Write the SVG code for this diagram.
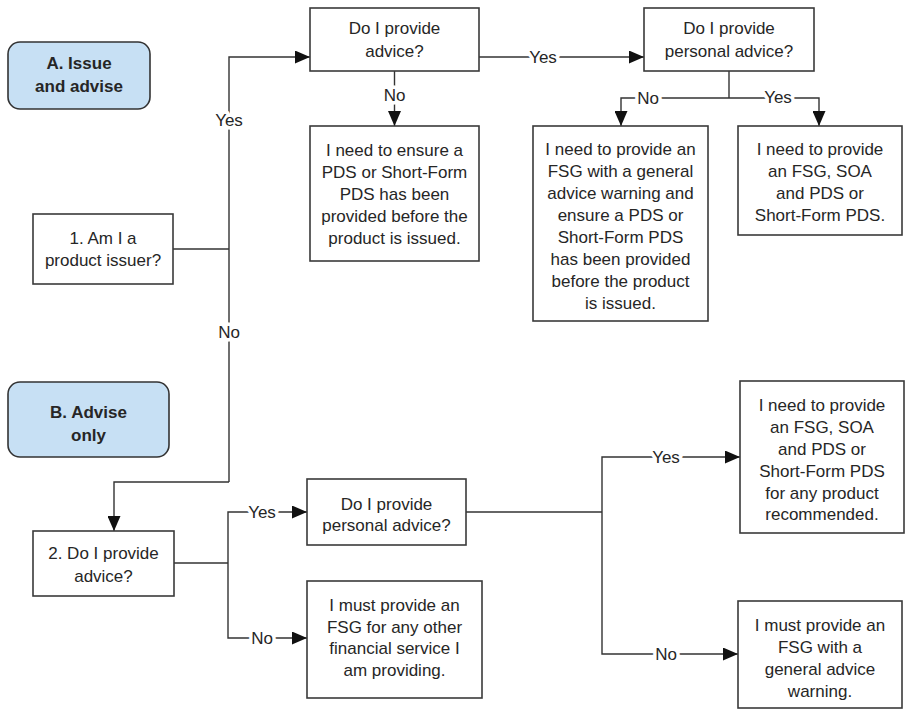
<svg xmlns="http://www.w3.org/2000/svg" width="910" height="709" viewBox="0 0 910 709">
<style>
.box{fill:#fff;stroke:#3a3a3a;stroke-width:1.6}
.hdr{fill:#c7e0f4;stroke:#333;stroke-width:1.6}
text{font-family:"Liberation Sans",Arial,sans-serif;font-size:17px;fill:#262626;text-anchor:middle}
.b{font-weight:bold}
.ln{fill:none;stroke:#333;stroke-width:1.4}
.lbl{stroke:#fff;stroke-width:7;paint-order:stroke;stroke-linejoin:round}
</style>
<defs>
<marker id="ah" markerUnits="userSpaceOnUse" markerWidth="15" markerHeight="13" viewBox="0 0 15 13" refX="15" refY="6.5" orient="auto">
<path d="M0,0 L15,6.5 L0,13 z" fill="#111"/>
</marker>
</defs>
<rect width="910" height="709" fill="#fff"/>

<g id="connectors">
<path class="ln" d="M173,249 H229"/>
<path class="ln" d="M229,482 V57 H310" marker-end="url(#ah)"/>
<path class="ln" d="M229,482 H114 V531" marker-end="url(#ah)"/>
<path class="ln" d="M394.5,71 V126" marker-end="url(#ah)"/>
<path class="ln" d="M479,57 H644" marker-end="url(#ah)"/>
<path class="ln" d="M729,71 V98"/>
<path class="ln" d="M729,98 H621 V126" marker-end="url(#ah)"/>
<path class="ln" d="M729,98 H819 V126" marker-end="url(#ah)"/>
<path class="ln" d="M174,563 H228"/>
<path class="ln" d="M228,563 V512 H307" marker-end="url(#ah)"/>
<path class="ln" d="M228,563 V638 H307" marker-end="url(#ah)"/>
<path class="ln" d="M466,512 H602"/>
<path class="ln" d="M602,512 V457 H740" marker-end="url(#ah)"/>
<path class="ln" d="M602,512 V654 H738" marker-end="url(#ah)"/>
<text class="lbl" x="229" y="126">Yes</text>
<text class="lbl" x="229" y="338">No</text>
<text class="lbl" x="394.5" y="101">No</text>
<text class="lbl" x="543" y="63">Yes</text>
<text class="lbl" x="648" y="104">No</text>
<text class="lbl" x="778" y="103">Yes</text>
<text class="lbl" x="262" y="518">Yes</text>
<text class="lbl" x="262" y="644">No</text>
<text class="lbl" x="666" y="463">Yes</text>
<text class="lbl" x="666" y="660">No</text>
</g>

<g id="hdrA">
<rect class="hdr" x="8" y="42" width="142" height="67" rx="12"/>
<text class="b" x="79" y="69">A. Issue</text>
<text class="b" x="79" y="92">and advise</text>
</g>
<g id="hdrB">
<rect class="hdr" x="8" y="382" width="161" height="75" rx="12"/>
<text class="b" x="88.5" y="418">B. Advise</text>
<text class="b" x="88.5" y="441">only</text>
</g>

<g id="q1">
<rect class="box" x="33" y="214" width="140" height="70"/>
<text x="103" y="244">1. Am I a</text>
<text x="103" y="266">product issuer?</text>
</g>
<g id="qAdviceA">
<rect class="box" x="310" y="8" width="169" height="63"/>
<text x="394.5" y="34">Do I provide</text>
<text x="394.5" y="57">advice?</text>
</g>
<g id="rEnsurePDS">
<rect class="box" x="310" y="126" width="169" height="135"/>
<text x="394.5" y="156">I need to ensure a</text>
<text x="394.5" y="178">PDS or Short-Form</text>
<text x="394.5" y="200">PDS has been</text>
<text x="394.5" y="222">provided before the</text>
<text x="394.5" y="244">product is issued.</text>
</g>
<g id="qPersonalA">
<rect class="box" x="644" y="8" width="170" height="63"/>
<text x="729" y="34">Do I provide</text>
<text x="729" y="57">personal advice?</text>
</g>
<g id="rGeneralA">
<rect class="box" x="533" y="126" width="175" height="195"/>
<text x="620.5" y="155">I need to provide an</text>
<text x="620.5" y="177">FSG with a general</text>
<text x="620.5" y="199">advice warning and</text>
<text x="620.5" y="221">ensure a PDS or</text>
<text x="620.5" y="243">Short-Form PDS</text>
<text x="620.5" y="265">has been provided</text>
<text x="620.5" y="287">before the product</text>
<text x="620.5" y="309">is issued.</text>
</g>
<g id="rSOAA">
<rect class="box" x="738" y="126" width="164" height="109"/>
<text x="820" y="155">I need to provide</text>
<text x="820" y="177">an FSG, SOA</text>
<text x="820" y="199">and PDS or</text>
<text x="820" y="221">Short-Form PDS.</text>
</g>

<g id="q2">
<rect class="box" x="33" y="531" width="141" height="65"/>
<text x="103.5" y="559">2. Do I provide</text>
<text x="103.5" y="582">advice?</text>
</g>
<g id="qPersonalB">
<rect class="box" x="307" y="479" width="159" height="66"/>
<text x="386.5" y="510">Do I provide</text>
<text x="386.5" y="531">personal advice?</text>
</g>
<g id="rOtherService">
<rect class="box" x="307" y="581" width="175" height="117"/>
<text x="394.5" y="611">I must provide an</text>
<text x="394.5" y="633">FSG for any other</text>
<text x="394.5" y="654">financial service I</text>
<text x="394.5" y="676">am providing.</text>
</g>
<g id="rSOAB">
<rect class="box" x="740" y="381" width="164" height="152"/>
<text x="822" y="411">I need to provide</text>
<text x="822" y="433">an FSG, SOA</text>
<text x="822" y="455">and PDS or</text>
<text x="822" y="477">Short-Form PDS</text>
<text x="822" y="499">for any product</text>
<text x="822" y="520">recommended.</text>
</g>
<g id="rGeneralB">
<rect class="box" x="738" y="601" width="164" height="107"/>
<text x="820" y="631">I must provide an</text>
<text x="820" y="653">FSG with a</text>
<text x="820" y="675">general advice</text>
<text x="820" y="697">warning.</text>
</g>
</svg>
